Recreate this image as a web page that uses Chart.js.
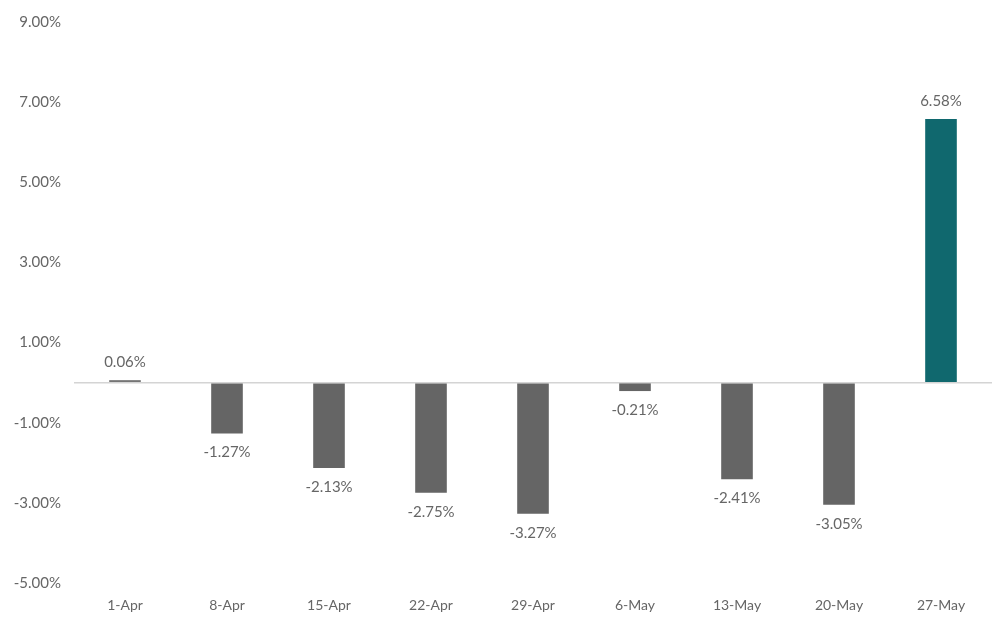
<!DOCTYPE html>
<html>
<head>
<meta charset="utf-8">
<script src="https://cdn.jsdelivr.net/npm/chart.js@4"></script>
<style>
  html, body { margin: 0; padding: 0; background: #ffffff; }
  #wrap { width: 1004px; height: 633px; position: relative; }
</style>
</head>
<body>
<div id="wrap"><canvas id="c" width="1004" height="633"></canvas></div>
<script>
// Weekly returns
const categories = ['1-Apr', '8-Apr', '15-Apr', '22-Apr', '29-Apr', '6-May', '13-May', '20-May', '27-May'];
const returns = [0.06, -1.27, -2.13, -2.75, -3.27, -0.21, -2.41, -3.05, 6.58];
const barColors = ['#656565', '#656565', '#656565', '#656565', '#656565', '#656565', '#656565', '#656565', '#10686E'];
const yTickMin = -5;
const yTickMax = 9;
const yTickStep = 2;

const textColor = '#666666';
const fontFamily = 'Lato, "Open Sans", sans-serif';

// Value labels above positive bars, below negative bars
const valueLabels = {
  id: 'valueLabels',
  afterDatasetsDraw(chart) {
    const ctx = chart.ctx;
    const meta = chart.getDatasetMeta(0);
    ctx.save();
    ctx.font = '15px ' + fontFamily;
    ctx.fillStyle = textColor;
    ctx.textAlign = 'center';
    ctx.textBaseline = 'middle';
    meta.data.forEach((bar, i) => {
      const v = chart.data.datasets[0].data[i];
      const y = v >= 0 ? bar.y - 18 : bar.y + 19;
      ctx.fillText(v.toFixed(2) + '%', bar.x, y);
    });
    ctx.restore();
  }
};

new Chart(document.getElementById('c'), {
  type: 'bar',
  data: {
    labels: categories,
    datasets: [{
      data: returns,
      backgroundColor: barColors,
      borderWidth: 0,
      barPercentage: 0.62,
      categoryPercentage: 0.5
    }]
  },
  options: {
    responsive: false,
    animation: false,
    layout: { padding: { top: 18, right: 12, left: 0, bottom: 0 } },
    plugins: {
      legend: { display: false },
      tooltip: { enabled: false }
    },
    scales: {
      x: {
        grid: { display: false, drawTicks: false },
        border: { display: false },
        ticks: {
          color: textColor,
          font: { family: fontFamily, size: 14 },
          padding: 14,
          maxRotation: 0
        },
        afterFit(scale) { scale.height = 50; }
      },
      y: {
        min: yTickMin,
        max: yTickMax,
        border: { display: false },
        grid: {
          drawTicks: false,
          lineWidth: 1.5,
          color: (c) => (c.tick && c.tick.value === 0 ? '#d4d4d4' : 'rgba(0,0,0,0)')
        },
        afterBuildTicks(scale) {
          const ticks = [];
          for (let v = yTickMin; v <= yTickMax; v += yTickStep) ticks.push({ value: v });
          ticks.splice(3, 0, { value: 0 });
          scale.ticks = ticks;
        },
        ticks: {
          color: textColor,
          font: { family: fontFamily, size: 15 },
          padding: 13,
          callback: (v) => (v === 0 ? '' : v.toFixed(2) + '%')
        },
        afterFit(scale) { scale.width = 74; }
      }
    }
  },
  plugins: [valueLabels]
});
</script>
</body>
</html>
